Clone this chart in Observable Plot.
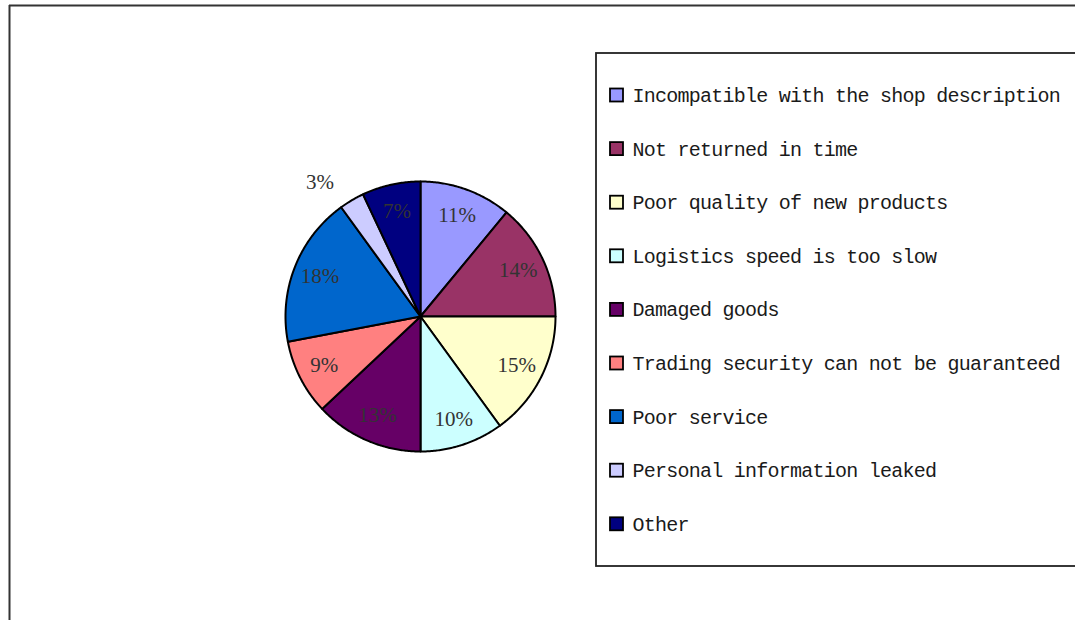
<!DOCTYPE html>
<html>
<head>
<meta charset="utf-8">
<script src="https://cdn.jsdelivr.net/npm/d3@7"></script>
<script src="https://cdn.jsdelivr.net/npm/@observablehq/plot@0.6"></script>
<style>
  html, body { margin: 0; padding: 0; background: #fff; }
  #chart { width: 1075px; height: 620px; }
</style>
</head>
<body>
<div id="chart"></div>
<script>
// ---- data ----
const categories = [
  "Incompatible with the shop description",
  "Not returned in time",
  "Poor quality of new products",
  "Logistics speed is too slow",
  "Damaged goods",
  "Trading security can not be guaranteed",
  "Poor service",
  "Personal information leaked",
  "Other"
];
const percents = [11, 14, 15, 10, 13, 9, 18, 3, 7];
const colors = ["#9999FF", "#993366", "#FFFFCC", "#CCFFFF", "#660066", "#FF8080", "#0066CC", "#CCCCFF", "#000080"];

// ---- layout ----
const W = 1075, H = 620;
const cx = 420, cy = 316, R = 135;
const legendX = 596, legendY = 53, legendW = 490, legendH = 513;
const rowY0 = 95, rowStep = 53.6;

const rows = categories.map((c, i) => ({category: c, value: percents[i]}));
const arcs = d3.pie().sort(null).value(d => d.value)(rows);

// slice polygons (in pixel space via identity scales)
const polyPts = [];
arcs.forEach(a => {
  const cat = a.data.category;
  polyPts.push({category: cat, x: cx, y: cy});
  const n = Math.max(2, Math.ceil((a.endAngle - a.startAngle) / 0.01));
  for (let k = 0; k <= n; k++) {
    const t = a.startAngle + (a.endAngle - a.startAngle) * k / n;
    polyPts.push({category: cat, x: cx + R * Math.sin(t), y: cy - R * Math.cos(t)});
  }
  polyPts.push({category: cat, x: cx, y: cy});
});

const labels = arcs.map(a => {
  const mid = (a.startAngle + a.endAngle) / 2;
  const outside = a.data.value < 5;
  const rr = outside ? R * 1.24 : R * 0.8;
  const ang = outside ? mid - 0.11 : mid;
  return {text: a.data.value + "%", x: cx + rr * Math.sin(ang), y: cy - rr * Math.cos(ang)};
});

const legendRows = categories.map((c, i) => ({category: c, y: rowY0 + i * rowStep}));

const chart = Plot.plot({
  width: W, height: H,
  margin: 0,
  x: {type: "identity", axis: null},
  y: {type: "identity", axis: null},
  color: {domain: categories, range: colors},
  style: {background: "#fff"},
  marks: [
    // outer frame (top and left)
    Plot.ruleY([5], {x1: 9, x2: W, stroke: "#333", strokeWidth: 2}),
    Plot.ruleX([9], {y1: 5, y2: H, stroke: "#333", strokeWidth: 2}),
    // pie
    Plot.line(polyPts, {x: "x", y: "y", z: "category", fill: "category", stroke: "#000", strokeWidth: 2, curve: "linear", strokeLinejoin: "round"}),
    Plot.text(labels, {x: "x", y: "y", text: "text", fontFamily: "Liberation Serif, Times New Roman, serif", fontSize: 21, fill: "#333"}),
    // legend box
    Plot.rect([{x1: legendX, x2: legendX + legendW, y1: legendY, y2: legendY + legendH}], {x1: "x1", x2: "x2", y1: "y1", y2: "y2", fill: "none", stroke: "#222", strokeWidth: 1.8}),
    Plot.rect(legendRows, {x1: 610, x2: 623, y1: d => d.y - 6.5, y2: d => d.y + 6.5, fill: "category", stroke: "#000", strokeWidth: 1.8}),
    Plot.text(legendRows, {x: 632, y: "y", text: "category", textAnchor: "start", fontFamily: "Liberation Mono, DejaVu Sans Mono, monospace", fontSize: 20, fill: "#1a1a1a"})
  ]
});
// tighten the monospace legend text so that its width matches the reference
d3.select(chart).selectAll("g[font-family^='Liberation Mono']").style("letter-spacing", "-0.75px");
document.getElementById("chart").appendChild(chart);
</script>
</body>
</html>
